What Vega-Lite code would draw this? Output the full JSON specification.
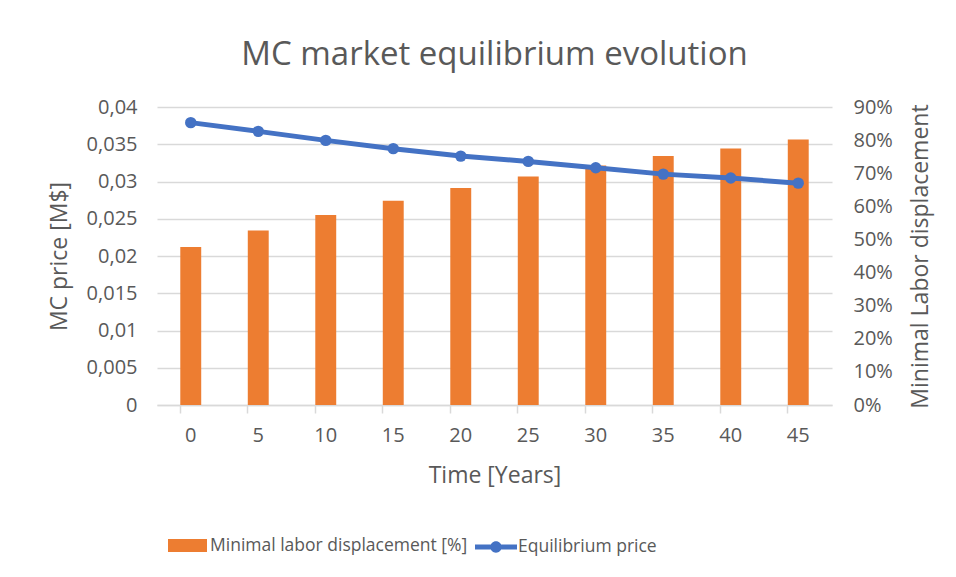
{
  "$schema": "https://vega.github.io/schema/vega-lite/v6.json",
  "width": 675,
  "height": 298,
  "autosize": {"type": "none"},
  "padding": {"left": 157, "top": 107, "right": 124, "bottom": 172},
  "background": "white",
  "title": {"text": "MC market equilibrium evolution", "fontSize": 33, "font": "Open Sans", "fontWeight": "normal", "color": "#595959", "offset": 25, "anchor": "middle"},
  "data": {"values": [
    {"year": "0", "price": 0.0379, "disp": 47.7},
    {"year": "5", "price": 0.03673, "disp": 52.7},
    {"year": "10", "price": 0.03552, "disp": 57.4},
    {"year": "15", "price": 0.03441, "disp": 61.7},
    {"year": "20", "price": 0.03341, "disp": 65.5},
    {"year": "25", "price": 0.0327, "disp": 69.0},
    {"year": "30", "price": 0.03185, "disp": 72.3},
    {"year": "35", "price": 0.03099, "disp": 75.2},
    {"year": "40", "price": 0.03046, "disp": 77.5},
    {"year": "45", "price": 0.02978, "disp": 80.2}
  ]},
  "encoding": {
    "x": {
      "field": "year", "type": "ordinal", "sort": null,
      "scale": {"paddingInner": 0.69, "paddingOuter": 0.345},
      "axis": {"title": "Time [Years]", "labelAngle": 0, "bandPosition": 0, "tickSize": 8, "tickColor": "#d9d9d9", "domainColor": "#d9d9d9", "domainWidth": 1.5, "tickWidth": 1.5, "labelPadding": 12, "labelFont": "Open Sans", "labelFontSize": 20, "labelColor": "#595959", "titleFont": "Open Sans", "titleFontSize": 23, "titleFontWeight": "normal", "titleColor": "#595959", "titlePadding": 19, "grid": false}
    }
  },
  "layer": [
    {
      "mark": {"type": "bar", "color": "#ED7D31"},
      "encoding": {
        "y": {"field": "disp", "type": "quantitative", "scale": {"domain": [0, 90], "nice": false},
          "axis": {"orient": "right", "title": "Minimal Labor displacement", "titleAngle": 270, "values": [0,10,20,30,40,50,60,70,80,90], "labelExpr": "datum.value + '%'", "grid": false, "domain": false, "ticks": false, "labelPadding": 21, "labelFont": "Open Sans", "labelFontSize": 20, "labelColor": "#595959", "titleFont": "Open Sans", "titleFontSize": 23, "titleFontWeight": "normal", "titleColor": "#595959", "titlePadding": 40}},
        "color": {"datum": "Minimal labor displacement [%]", "scale": {"range": ["#ED7D31"]},
          "legend": {"title": null, "orient": "none", "legendX": 11, "legendY": 419, "padding": 0, "symbolType": "M-1,-0.333H1V0.333H-1Z", "symbolSize": 1521, "symbolStrokeWidth": 0, "labelFont": "Open Sans", "labelFontSize": 17.5, "labelColor": "#595959", "labelOffset": 3, "labelLimit": 500}}
      }
    },
    {
      "mark": {"type": "line", "color": "#4472C4", "strokeWidth": 5, "point": {"filled": true, "size": 130}},
      "encoding": {
        "y": {"field": "price", "type": "quantitative", "scale": {"domain": [0, 0.04], "nice": false},
          "axis": {"orient": "left", "title": "MC price [M$]", "values": [0,0.005,0.01,0.015,0.02,0.025,0.03,0.035,0.04], "labelExpr": "replace(format(datum.value, '~g'), '.', ',')", "grid": true, "gridColor": "#d9d9d9", "gridWidth": 1.5, "domain": false, "ticks": false, "labelPadding": 20, "labelFont": "Open Sans", "labelFontSize": 20, "labelColor": "#595959", "titleFont": "Open Sans", "titleFontSize": 23, "titleFontWeight": "normal", "titleColor": "#595959", "titlePadding": 15}},
        "color": {"datum": "Equilibrium price", "scale": {"range": ["#4472C4"]},
          "legend": {"title": null, "orient": "none", "legendX": 318, "legendY": 419, "padding": 0, "symbolType": "M-1,-0.12H1V0.12H-1Z M0.27,0 A0.27,0.27 0 1,1 -0.27,0 A0.27,0.27 0 1,1 0.27,0 Z", "symbolSize": 1764, "symbolStrokeWidth": 0, "symbolFillColor": "#4472C4", "labelFont": "Open Sans", "labelFontSize": 17.5, "labelColor": "#595959", "labelOffset": 1, "labelLimit": 500,
            "encode": {"symbols": {"update": {"fill": {"value": "#4472C4"}, "strokeWidth": {"value": 0}, "opacity": {"value": 1}}}}}}
      }
    }
  ],
  "resolve": {"scale": {"y": "independent", "color": "independent"}},
  "config": {"view": {"stroke": null}}
}
